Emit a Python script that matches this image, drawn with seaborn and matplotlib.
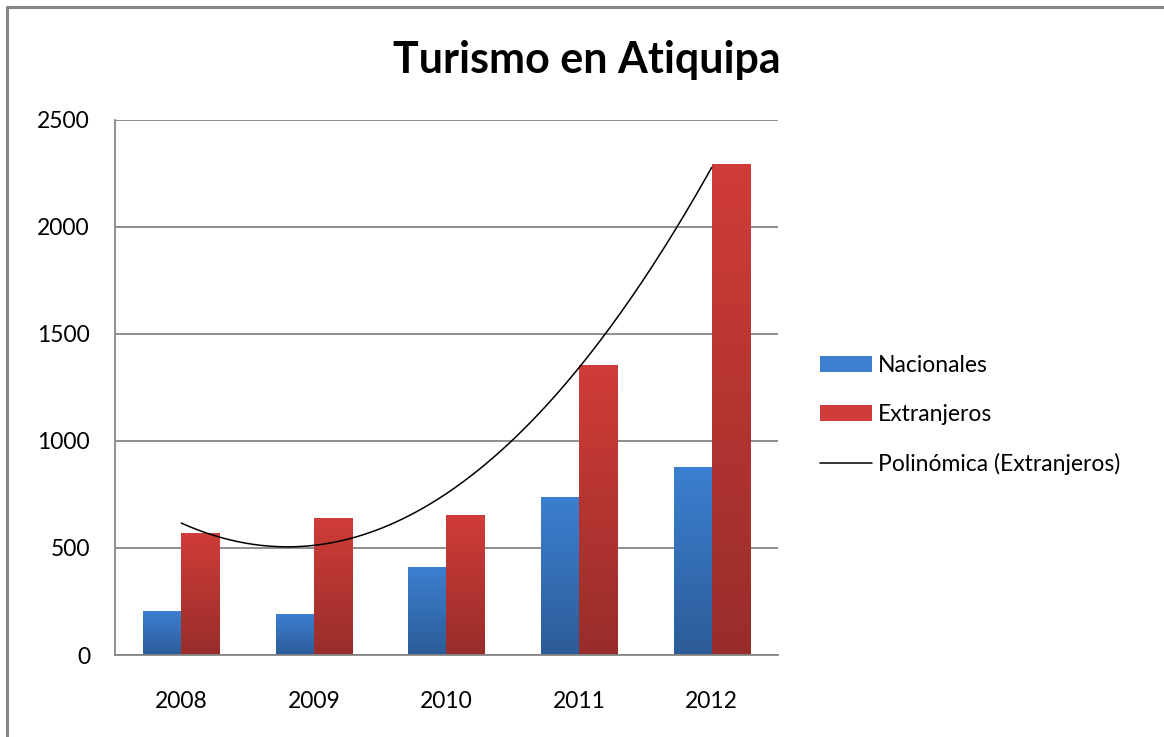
import numpy as np
import pandas as pd
import matplotlib
matplotlib.use("Agg")
import matplotlib.pyplot as plt
import seaborn as sns
from matplotlib.colors import LinearSegmentedColormap
from matplotlib.lines import Line2D
from matplotlib.patches import Patch

# data
years = ["2008", "2009", "2010", "2011", "2012"]
nacionales = [205, 187, 411, 738, 874]
extranjeros = [570, 640, 650, 1355, 2290]
series_names = ["Nacionales", "Extranjeros"]

# gradient colours (top, bottom)
blue_top, blue_bottom = "#3c7fd0", "#2c5c98"
red_top, red_bottom = "#d03c39", "#982d2a"

df = pd.DataFrame({
    "year": years * 2,
    "value": nacionales + extranjeros,
    "serie": [series_names[0]] * len(years) + [series_names[1]] * len(years),
})

sns.set_style("white")
plt.rcParams["font.family"] = ["Lato", "DejaVu Sans"]
plt.rcParams["text.color"] = "black"

fig = plt.figure(figsize=(11.64, 7.37), dpi=100)
ax = fig.add_axes([115 / 1164, 1 - 655 / 737, (778 - 115) / 1164, (655 - 120) / 737])

sns.barplot(data=df, x="year", y="value", hue="serie", order=years,
            palette=[blue_top, red_top], width=0.575, gap=0, ax=ax,
            legend=False, saturation=1, errorbar=None)

# vertical gradient fill on each bar
cmaps = {
    blue_top: LinearSegmentedColormap.from_list("b", [blue_bottom, blue_top]),
    red_top: LinearSegmentedColormap.from_list("r", [red_bottom, red_top]),
}
grad = np.linspace(0, 1, 256).reshape(-1, 1)
for p in list(ax.patches):
    x0, y0 = p.get_x(), p.get_y()
    w, h = p.get_width(), p.get_height()
    if h <= 0:
        continue
    fc = matplotlib.colors.to_hex(p.get_facecolor())
    cm = cmaps[blue_top] if fc == blue_top.lower() else cmaps[red_top]
    ax.imshow(grad, cmap=cm, origin="lower", aspect="auto",
              extent=[x0, x0 + w, y0, y0 + h], zorder=2)
    p.set_visible(False)

# polynomial (order 2) trendline of Extranjeros
xs = np.arange(len(years))
coef = np.polyfit(xs, extranjeros, 2)
xf = np.linspace(0, len(years) - 1, 200)
ax.plot(xf, np.polyval(coef, xf), color="black", lw=1.1, zorder=3)

ax.set_xlim(-0.5, len(years) - 0.5)
ax.set_ylim(0, 2500)
ax.set_yticks(range(0, 2501, 500))
ax.yaxis.grid(True, color="#868686", lw=1.3)
ax.set_axisbelow(True)
for s in ["top", "right"]:
    ax.spines[s].set_visible(False)
for s in ["left", "bottom"]:
    ax.spines[s].set_color("#868686")
    ax.spines[s].set_linewidth(1.3)
ax.tick_params(axis="both", length=0, labelsize=16.5, colors="black")
ax.tick_params(axis="y", pad=18)
ax.tick_params(axis="x", pad=26)
ax.set_xlabel("")
ax.set_ylabel("")

fig.text(587 / 1164, 1 - 60 / 737, "Turismo en Atiquipa", ha="center", va="center",
         fontsize=31, fontweight="bold", color="black")

handles = [
    Patch(facecolor=blue_top, edgecolor="none"),
    Patch(facecolor=red_top, edgecolor="none"),
    Line2D([0], [0], color="black", lw=1.1),
]
labels = series_names + ["Polinómica (Extranjeros)"]
fig.legend(handles, labels, loc="center left", bbox_to_anchor=(799 / 1164, 1 - 415 / 737),
           frameon=False, fontsize=16.5, handlelength=2.3, handleheight=0.7,
           handletextpad=0.25, labelspacing=1.22)

# chart area border (top and left only visible)
fig.add_artist(Line2D([7 / 1164, 1], [1 - 7 / 737, 1 - 7 / 737], color="#868686", lw=2.2,
                      transform=fig.transFigure))
fig.add_artist(Line2D([7 / 1164, 7 / 1164], [0, 1 - 7 / 737], color="#868686", lw=2.2,
                      transform=fig.transFigure))

fig.savefig("out.png", dpi=100)
